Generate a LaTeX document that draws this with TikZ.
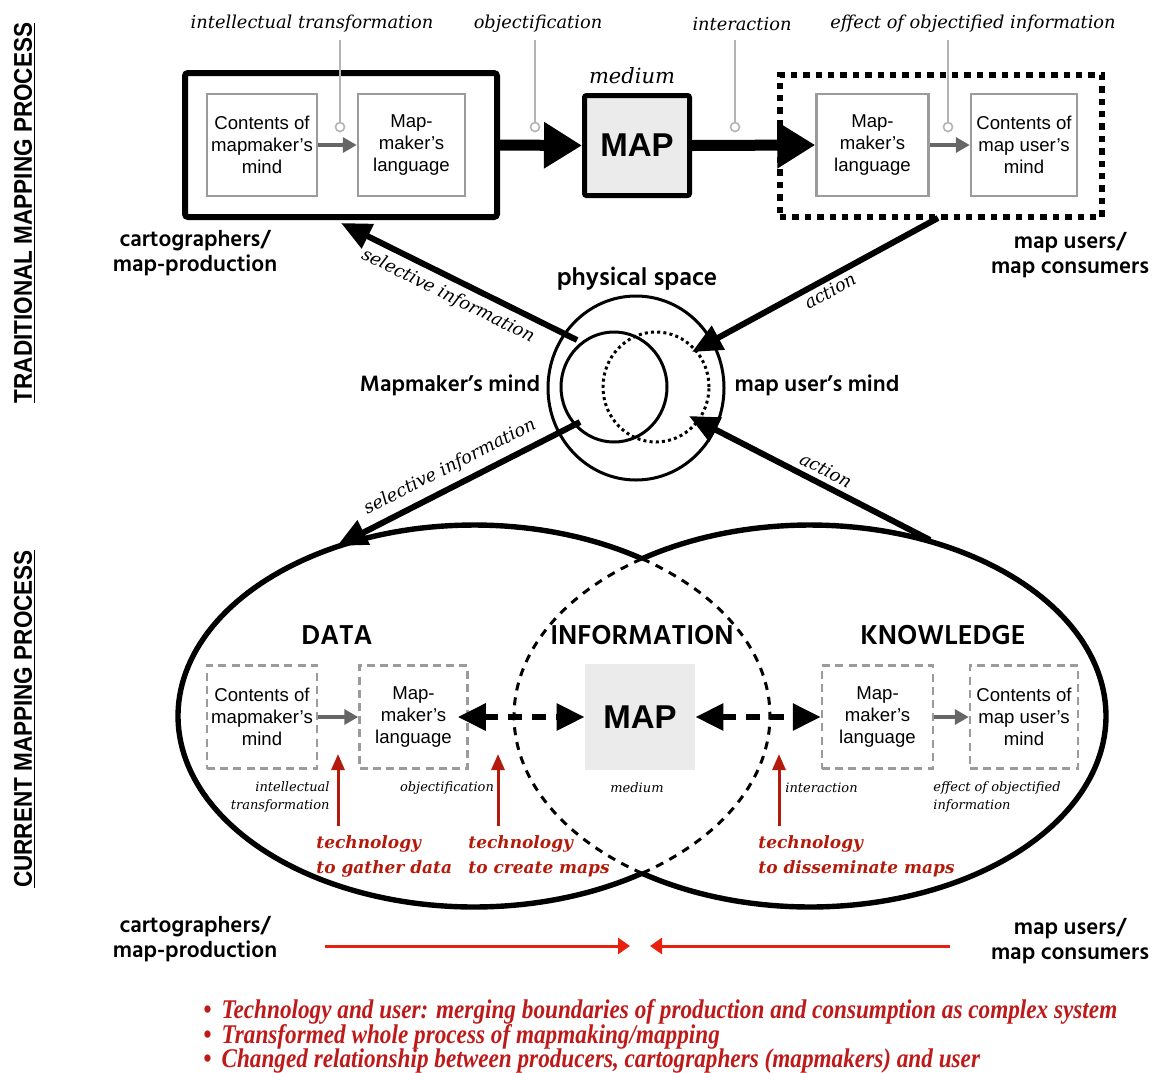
\documentclass[tikz,border=0pt]{standalone}
\usepackage{fontspec}
\usetikzlibrary{arrows.meta}
\setmainfont{Liberation Sans}
\newfontfamily\sansbox{Liberation Sans}
\newfontfamily\sidefont[FakeStretch=0.88]{Liberation Sans}
\newfontfamily\headfont{Hind Siliguri}
\newfontfamily\slabit{DejaVu Serif}
\newfontfamily\notesfont[FakeStretch=0.86]{Liberation Serif}

\definecolor{boxgray}{HTML}{9B9B9B}
\definecolor{arrowgray}{HTML}{666666}
\definecolor{pingray}{HTML}{B4B4B4}
\definecolor{mapfill}{HTML}{EBEBEB}
\definecolor{techred}{HTML}{B31A0C}
\definecolor{flowred}{HTML}{E8210F}
\definecolor{notered}{HTML}{BE1A1A}

\newcommand\boxtxt{\sansbox\fontsize{9.3}{11}\selectfont}
\newcommand\maptxt{\sansbox\bfseries\fontsize{16.5}{18}\selectfont}
\newcommand\toptxt{\slabit\itshape\fontsize{8.9}{10}\selectfont}
\newcommand\smalltxt{\slabit\itshape\fontsize{6.5}{9}\selectfont}
\newcommand\grptxt{\headfont\bfseries\fontsize{11.4}{12.2}\selectfont}
\newcommand\zonetxt{\headfont\bfseries\fontsize{14}{15}\selectfont}
\newcommand\techtxt{\slabit\bfseries\itshape\fontsize{8.5}{12.5}\selectfont}
\newcommand\notetxt{\notesfont\bfseries\itshape\fontsize{13.5}{14}\selectfont}
\newcommand\sidetxt{\sidefont\bfseries\fontsize{12.8}{14}\selectfont}

\begin{document}
\begin{tikzpicture}[x=0.5pt,y=-0.5pt,
  mindbox/.style={draw=boxgray,line width=1.25pt,minimum height=51pt,inner sep=0pt,align=center,font=\boxtxt},
  dashbox/.style={mindbox,dash pattern=on 4pt off 2.6pt},
  grayarrow/.style={draw=arrowgray,line width=2pt,-{Triangle[length=7pt,width=7.5pt]}},
  bigarrow/.style={line width=5.5pt,-{Triangle[length=19pt,width=22pt]}},
  midarrow/.style={line width=3pt,-{Triangle[length=15pt,width=13pt]}},
  dasharrow/.style={line width=3pt,dash pattern=on 7pt off 5pt,{Triangle[length=14pt,width=13pt]}-{Triangle[length=14pt,width=13pt]}},
  techarrow/.style={draw=techred,line width=1.5pt,-{Triangle[length=8pt,width=6.5pt]}},
  flowarrow/.style={draw=flowred,line width=1.5pt,-{Triangle[length=6pt,width=8pt]}},
  pin/.style={draw=pingray,line width=0.8pt},
  pinhead/.style={circle,draw=pingray,line width=0.8pt,fill=white,minimum size=4.5pt,inner sep=0pt},
  ellsolid/.style={line width=2.7pt},
  elldash/.style={line width=1.5pt,dash pattern=on 4pt off 3.5pt},
  toplabel/.style={font=\toptxt,inner sep=1pt},
  smalllabel/.style={font=\smalltxt,inner sep=1pt},
  grplabel/.style={font=\grptxt,align=center,inner sep=1pt},
  zonelabel/.style={font=\zonetxt,inner sep=1pt},
  techlabel/.style={font=\techtxt,text=techred,align=left,anchor=west,inner sep=0pt},
  notelabel/.style={font=\notetxt,text=notered,anchor=west,inner sep=0pt},
]
\useasboundingbox (0,0) rectangle (1167,1072);

% side titles
\node[font=\sidetxt,rotate=90] (side1) at (25,213) {\underline{TRADITIONAL MAPPING PROCESS}};
\node[font=\sidetxt,rotate=90] (side2) at (25,719) {\underline{CURRENT MAPPING PROCESS}};

% ---------- traditional process ----------
\node[draw,line width=3pt,minimum width=156pt,minimum height=72pt,rounded corners=1.5pt] (prod) at (341,145) {};
\node[mindbox,minimum width=55pt] (cm1) at (262,145) {Contents of\\mapmaker’s\\mind};
\node[mindbox,minimum width=53.5pt] (ml1) at (411.5,145) {Map-\\maker’s\\language};
\node[draw,line width=2.5pt,fill=mapfill,minimum width=52.5pt,minimum height=50pt,rounded corners=1pt,font=\maptxt] (map1) at (637,145.5) {MAP};
\node[draw,line width=3pt,dash pattern=on 3.2pt off 3pt,minimum width=161pt,minimum height=71pt] (users) at (941,146) {};
\node[mindbox,minimum width=56pt] (ml2) at (872.5,145) {Map-\\maker’s\\language};
\node[mindbox,minimum width=53pt] (cu2) at (1024,145) {Contents of\\map user’s\\mind};

\draw[grayarrow] (cm1.east) -- (ml1.west);
\draw[grayarrow] (ml2.east) -- (cu2.west);
\draw[bigarrow] (prod.east) -- (map1.west);
\draw[bigarrow] (map1.east) -- (ml2.west);

\node[toplabel] (it1) at (312,24) {intellectual transformation};
\node[toplabel] (ob1) at (538,24) {objectification};
\node[toplabel] (in1) at (742,24) {interaction};
\node[toplabel] (ef1) at (973,24) {effect of objectified information};
\node[font=\toptxt\fontsize{10.5}{12}\selectfont,inner sep=1pt] (med1) at (632,76) {medium};

\coordinate (q1) at (340,40);  \node[pinhead] (p1) at (340,127) {};
\coordinate (q2) at (535,40);  \node[pinhead] (p2) at (535,127) {};
\coordinate (q3) at (735,40);  \node[pinhead] (p3) at (735,127) {};
\coordinate (q4) at (948,40);  \node[pinhead] (p4) at (948,127) {};
\draw[pin] (q1) -- (p1);
\draw[pin] (q2) -- (p2);
\draw[pin] (q3) -- (p3);
\draw[pin] (q4) -- (p4);

\node[grplabel] (carto1) at (195,253) {cartographers/\\map-production};
\node[grplabel] (users1) at (1070,255) {map users/\\map consumers};

% ---------- physical space ----------
\node[grplabel,font=\headfont\bfseries\fontsize{12.6}{14}\selectfont] (phys) at (637,279) {physical space};
\draw[line width=1.5pt] (636,388) ellipse [x radius=44pt, y radius=46pt];
\draw[line width=1.5pt] (614,387) ellipse [x radius=26.5pt, y radius=27.5pt];
\draw[line width=1.5pt,dash pattern=on 1.5pt off 1.6pt] (656,387) ellipse [x radius=26.5pt, y radius=27.5pt];
\node[grplabel] (mmind) at (450,385) {Mapmaker’s mind};
\node[grplabel] (umind) at (817,385) {map user’s mind};

\coordinate (s1) at (577,340); \coordinate (s1t) at (341,223);
\coordinate (c1) at (938,218); \coordinate (c1t) at (692,352);
\coordinate (s2) at (580,422); \coordinate (s2t) at (337,546);
\coordinate (c2) at (930,540); \coordinate (c2t) at (689,416);
\draw[midarrow] (s1) -- (s1t);
\draw[midarrow] (c1) -- (c1t);
\draw[midarrow] (s2) -- (s2t);
\draw[midarrow] (c2) -- (c2t);
\node[toplabel,rotate=-26.4] (sl1) at (448,296) {selective information};
\node[toplabel,rotate=28.6] (al1) at (830,291) {action};
\node[toplabel,rotate=27] (sl2) at (450,467) {selective information};
\node[toplabel,rotate=-27.2] (al2) at (826,470) {action};

% ---------- current process ----------
\draw[ellsolid] plot[domain=55.4:304.6,samples=140,variable=\t] ({474+296*cos(\t)},{716+191*sin(\t)});
\draw[elldash] plot[domain=-55.4:55.4,samples=80,variable=\t] ({474+296*cos(\t)},{716+191*sin(\t)});
\draw[ellsolid] plot[domain=-124.6:124.6,samples=140,variable=\t] ({810+296*cos(\t)},{716+191*sin(\t)});
\draw[elldash] plot[domain=124.6:235.4,samples=80,variable=\t] ({810+296*cos(\t)},{716+191*sin(\t)});

\node[zonelabel] (data) at (337,635) {DATA};
\node[zonelabel] (info) at (642,635) {INFORMATION};
\node[zonelabel] (know) at (943,635) {KNOWLEDGE};

\node[dashbox,minimum width=55pt,minimum height=51.5pt] (cm3) at (262,717) {Contents of\\mapmaker’s\\mind};
\node[dashbox,minimum width=54pt,minimum height=51.5pt] (ml3) at (413.5,717) {Map-\\maker’s\\language};
\node[fill=mapfill,minimum width=55pt,minimum height=53pt,font=\maptxt] (map2) at (640,717) {MAP};
\node[dashbox,minimum width=55.5pt,minimum height=51.5pt] (ml4) at (877.5,717) {Map-\\maker’s\\language};
\node[dashbox,minimum width=54pt,minimum height=51.5pt] (cu4) at (1024,717) {Contents of\\map user’s\\mind};

\draw[grayarrow] (cm3.east) -- (ml3.west);
\draw[grayarrow] (ml4.east) -- (cu4.west);
\draw[dasharrow,shorten <=-5.5pt] (ml3.east) -- (map2.west);
\draw[dasharrow] (map2.east) -- (ml4.west);

\node[smalllabel,align=right,anchor=east] (it3) at (332,797) {intellectual\\transformation};
\node[smalllabel] (ob3) at (447,788) {objectification};
\node[smalllabel] (md3) at (637,788) {medium};
\node[smalllabel,anchor=west] (in3) at (783,788) {interaction};
\node[smalllabel,align=left,anchor=west] (ef3) at (931,797) {effect of objectified\\information};

\coordinate (u1) at (338,826); \coordinate (u1t) at (338,754);
\coordinate (u2) at (498,826); \coordinate (u2t) at (498,754);
\coordinate (u3) at (779,826); \coordinate (u3t) at (779,754);
\draw[techarrow] (u1) -- (u1t);
\draw[techarrow] (u2) -- (u2t);
\draw[techarrow] (u3) -- (u3t);
\node[techlabel] (tg) at (316,856) {technology\\to gather data};
\node[techlabel] (tc) at (468,856) {technology\\to create maps};
\node[techlabel] (td) at (758,856) {technology\\to disseminate maps};

\node[grplabel] (carto2) at (195,939) {cartographers/\\map-production};
\node[grplabel] (users2) at (1070,941) {map users/\\map consumers};

\coordinate (f1) at (325,946); \coordinate (f1t) at (630,946);
\coordinate (f2) at (950,946); \coordinate (f2t) at (650,946);
\draw[flowarrow] (f1) -- (f1t);
\draw[flowarrow] (f2) -- (f2t);

\node[notelabel] (n1) at (203,1012) {•\hspace{5pt}Technology and user: merging boundaries of production and consumption as complex system};
\node[notelabel] (n2) at (203,1037) {•\hspace{5pt}Transformed whole process of mapmaking/mapping};
\node[notelabel] (n3) at (203,1061) {•\hspace{5pt}Changed relationship between producers, cartographers (mapmakers) and user};
\end{tikzpicture}
\end{document}
